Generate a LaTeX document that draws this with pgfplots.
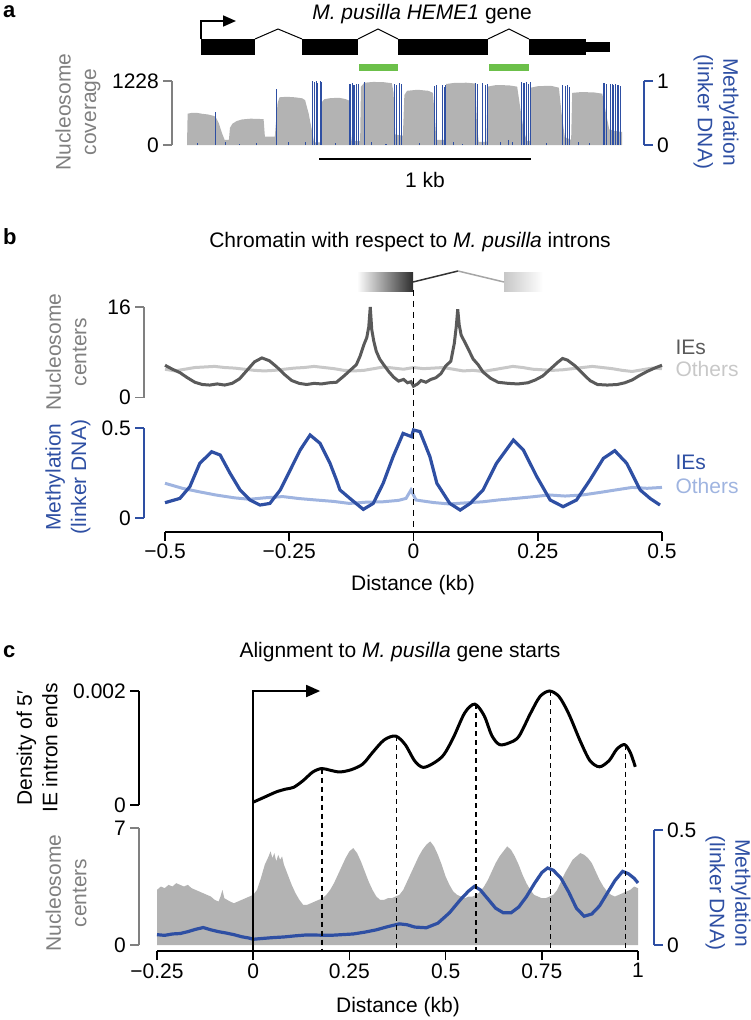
\documentclass[border=0pt]{standalone}
\usepackage{fontspec}
\setmainfont{Liberation Sans}
\usepackage{pgfplots}
\pgfplotsset{compat=1.18}
\usetikzlibrary{arrows.meta}

\definecolor{ieblue}{HTML}{2E4FA3}
\definecolor{otblue}{HTML}{9FB4E0}
\definecolor{iegray}{HTML}{5A5A5A}
\definecolor{otgray}{HTML}{C8C8C8}
\definecolor{areagray}{HTML}{B3B3B3}
\definecolor{labgray}{HTML}{808080}
\definecolor{exgreen}{HTML}{6CC04A}

\newcommand\tfont{\fontsize{21}{24}\selectfont}
\newcommand\lfont{\fontsize{21}{25.5}\selectfont}

\pgfplotsset{
  panel/.style={scale only axis, enlargelimits=false, clip=false,
    anchor=south west, scaled ticks=false,
    /pgf/number format/assume math mode=true,
    tick label style={font=\tfont, text=black},
    yticklabel style={inner xsep=4pt},
    tick align=outside, major tick length=9pt},
  nox/.style={axis x line=none, xtick=\empty},
  ybrack/.style 2 args={axis y line*=#1,
    y axis line style={-, draw=#2, line width=1.4pt},
    every y tick/.style={draw=#2, line width=1.4pt}},
  xbottom/.style={axis x line*=bottom,
    x axis line style={-, draw=black, line width=1.6pt},
    every x tick/.style={draw=black, line width=1.6pt}},
}

\begin{document}
\begin{tikzpicture}
\path[use as bounding box] (0pt,0pt) rectangle (751pt,-1020pt);

% ---------------- panel a ----------------
\node[anchor=north west, inner sep=0, font=\bfseries\fontsize{22}{22}\selectfont] at (3pt,-5pt) {a};
\node[font=\tfont, inner sep=0] at (422pt,-14pt) {\textit{M. pusilla HEME1} gene};
\fill (201pt,-39pt) rectangle (255pt,-55pt);
\fill (302pt,-39pt) rectangle (358pt,-55pt);
\fill (398pt,-39pt) rectangle (488pt,-55pt);
\fill (529pt,-39pt) rectangle (586pt,-55pt);
\fill (586pt,-42pt) rectangle (610pt,-52pt);
\draw[line width=1pt] (255pt,-39pt) -- (278pt,-29pt) -- (302pt,-39pt);
\draw[line width=1pt] (358pt,-39pt) -- (378pt,-29pt) -- (398pt,-39pt);
\draw[line width=1pt] (488pt,-39pt) -- (509pt,-29pt) -- (529pt,-39pt);
\draw[line width=1.6pt, -{Triangle[length=13pt,width=11pt]}] (201pt,-39pt) -- (201pt,-21pt) -- (236pt,-21pt);
\fill[exgreen] (359pt,-64pt) rectangle (398pt,-71pt);
\fill[exgreen] (489pt,-64pt) rectangle (529pt,-71pt);

\begin{axis}[panel, nox, ybrack={left}{labgray}, axis y line shift=15pt,
  at={(187pt,-145pt)}, width=436pt, height=64pt,
  xmin=0, xmax=2060, ymin=0, ymax=1228, ytick={0,1228}, yticklabels={0,1228}]
\addplot[fill=areagray, draw=none] coordinates {
(0,0) (3,600) (20,615) (45,618) (70,600) (100,585) (125,560) (135,540) (150,420)
(165,230) (178,97) (198,97) (203,330) (215,410) (235,460) (260,490) (300,505)
(340,500) (362,495) (368,161) (415,161) (420,420) (428,800) (437,915) (470,925)
(510,915) (545,895) (558,860) (575,600) (594,200) (600,50) (634,50) (638,830)
(650,880) (680,900) (720,905) (750,880) (767,850) (772,300) (778,80) (818,80)
(822,1120) (838,1195) (880,1210) (930,1205) (968,1185) (976,1000) (984,200)
(1020,180) (1027,960) (1040,1040) (1090,1060) (1140,1040) (1162,1000) (1170,600)
(1178,100) (1220,100) (1224,1170) (1260,1190) (1320,1195) (1362,1180) (1370,400)
(1378,60) (1415,60) (1420,1120) (1460,1150) (1520,1145) (1560,1120) (1575,700)
(1590,300) (1605,80) (1620,80) (1624,1100) (1660,1130) (1720,1135) (1757,1100)
(1770,600) (1785,150) (1815,100) (1820,1000) (1860,1015) (1920,1010) (1962,985)
(1980,600) (1995,300) (2020,270) (2056,250) (2056,0)};
\end{axis}

\begin{axis}[panel, nox, ybrack={right}{ieblue}, axis y line shift=21pt,
  at={(187pt,-145pt)}, width=436pt, height=64pt,
  xmin=0, xmax=2060, ymin=0, ymax=1, ytick={0,1}, yticklabels={0,1}]
\addplot[ycomb, draw=ieblue, line width=1.1pt, mark=none] coordinates {
(135,0.52) (424,0.88) (594,1.0) (602,0.98) (610,1.0) (618,0.97) (629,1.0) (635,0.99)
(770,0.95) (780,0.97) (789,0.93) (799,0.96) (811,0.95) (838,0.99)
(979,0.96) (990,0.94) (1003,0.97) (1014,0.95)
(1168,0.92) (1179,0.94) (1207,0.93) (1215,0.91) (1223,0.94)
(1364,0.97) (1372,0.95) (1396,0.97) (1409,0.94) (1420,0.96)
(1581,0.99) (1592,0.97) (1603,0.99) (1613,0.96) (1624,0.98)
(1773,0.93) (1789,0.92) (1797,0.94) (1808,0.91)
(1970,0.97) (1981,0.96) (2001,0.95) (2009,0.96) (2017,0.94) (2025,0.95) (2033,0.93) (2040,0.94) (2048,0.92)
(50,0.03) (180,0.04) (250,0.02) (330,0.03) (480,0.04) (560,0.05) (700,0.03) (870,0.04)
(940,0.02) (1100,0.03) (1260,0.04) (1300,0.02) (1480,0.05) (1520,0.08) (1540,0.04)
(1700,0.03) (1850,0.04) (1900,0.03)};
\end{axis}

\draw[line width=1.8pt] (319pt,-159pt) -- (531pt,-159pt);
\node[font=\tfont] at (425pt,-180pt) {1 kb};
\node[rotate=90, align=center, font=\lfont, text=labgray] at (78pt,-112pt) {Nucleosome\\coverage};
\node[rotate=-90, align=center, font=\lfont, text=ieblue] at (716pt,-112pt) {Methylation\\(linker DNA)};

% ---------------- panel b ----------------
\node[anchor=north west, inner sep=0, font=\bfseries\fontsize{22}{22}\selectfont] at (3pt,-228pt) {b};
\node[font=\tfont] at (410pt,-242pt) {Chromatin with respect to \textit{M. pusilla} introns};
\shade[left color=white, right color=black!82] (357pt,-272pt) rectangle (413pt,-291pt);
\shade[left color=black!22, right color=white] (504pt,-272pt) rectangle (543pt,-291pt);
\draw[line width=1.5pt, black!80] (413pt,-282pt) -- (458pt,-271pt);
\draw[line width=1.5pt, black!35] (458pt,-271pt) -- (504pt,-282pt);

\begin{axis}[panel, nox, ybrack={left}{labgray}, axis y line shift=21pt,
  at={(165pt,-397.5pt)}, width=497pt, height=90.5pt,
  xmin=-0.5, xmax=0.5, ymin=0, ymax=16, ytick={0,16}, yticklabels={0,16}]
\addplot[otgray, line width=3pt] coordinates {
(-0.5,5.0) (-0.48,4.7) (-0.46,5.0) (-0.44,5.3) (-0.42,5.4) (-0.4,5.5) (-0.38,5.3)
(-0.36,5.2) (-0.34,5.0) (-0.32,4.8) (-0.3,4.7) (-0.28,4.8) (-0.26,5.0) (-0.24,5.2)
(-0.22,5.3) (-0.2,5.5) (-0.18,5.3) (-0.16,5.1) (-0.14,4.8) (-0.12,4.7) (-0.1,4.8)
(-0.08,5.1) (-0.06,5.4) (-0.04,5.2) (-0.02,5.0) (0,5.3) (0.02,5.1) (0.04,5.2)
(0.06,5.3) (0.08,5.0) (0.1,4.7) (0.12,4.8) (0.14,4.6) (0.16,4.9) (0.18,5.2) (0.2,5.5)
(0.22,5.3) (0.24,5.0) (0.26,4.9) (0.28,4.8) (0.3,4.9) (0.32,5.1) (0.34,5.3) (0.36,5.5)
(0.38,5.3) (0.4,5.1) (0.42,4.8) (0.44,4.6) (0.46,4.9) (0.48,5.2) (0.5,5.1)};
\addplot[iegray, line width=3pt] coordinates {
(-0.5,5.7) (-0.485,5.0) (-0.47,4.4) (-0.455,3.5) (-0.44,2.7) (-0.425,2.3) (-0.41,2.2)
(-0.395,2.4) (-0.38,2.2) (-0.365,2.5) (-0.35,3.3) (-0.335,4.8) (-0.32,6.3) (-0.305,7.0)
(-0.29,6.5) (-0.275,5.4) (-0.26,4.1) (-0.245,3.0) (-0.23,2.5) (-0.215,2.3) (-0.2,2.5)
(-0.185,2.4) (-0.17,2.6) (-0.155,2.7) (-0.14,3.8) (-0.125,5.0) (-0.115,5.8) (-0.108,7.2)
(-0.1,9.3) (-0.094,10.6) (-0.09,12.5) (-0.087,16.0) (-0.084,12.0) (-0.08,10.0)
(-0.075,8.2) (-0.068,6.8) (-0.06,5.8) (-0.05,4.6) (-0.04,3.6) (-0.03,2.9) (-0.02,3.2)
(-0.012,2.6) (-0.005,2.8) (0.0,2.0) (0.008,2.4) (0.015,3.0) (0.025,2.7) (0.035,3.2)
(0.045,3.5) (0.055,4.2) (0.065,5.6) (0.075,6.4) (0.082,9.5) (0.086,12.5) (0.089,15.6)
(0.092,12.8) (0.096,11.0) (0.102,10.0) (0.11,8.6) (0.12,6.8) (0.13,5.8) (0.14,4.5)
(0.155,3.4) (0.17,2.7) (0.19,2.5) (0.21,2.4) (0.23,2.6) (0.245,3.1) (0.26,3.8)
(0.275,5.0) (0.29,6.2) (0.3,6.9) (0.31,6.6) (0.325,5.6) (0.34,4.3) (0.355,3.0)
(0.37,2.3) (0.39,2.2) (0.41,2.3) (0.425,2.6) (0.44,3.1) (0.455,3.9) (0.47,4.6)
(0.485,5.2) (0.5,5.7)};
\end{axis}

\begin{axis}[panel, ybrack={left}{ieblue}, xbottom, axis y line shift=21pt,
  axis x line shift=13.7pt,
  at={(165pt,-518pt)}, width=497pt, height=90pt,
  xmin=-0.5, xmax=0.5, ymin=0, ymax=0.5, ytick={0,0.5}, yticklabels={0,0.5},
  xtick={-0.5,-0.25,0,0.25,0.5}, xticklabels={−0.5,−0.25,0,0.25,0.5}]
\addplot[otblue, line width=3pt] coordinates {
(-0.5,0.193) (-0.465,0.165) (-0.43,0.145) (-0.398,0.128) (-0.36,0.112) (-0.33,0.104)
(-0.3,0.112) (-0.263,0.119) (-0.23,0.108) (-0.196,0.1) (-0.16,0.092) (-0.129,0.081)
(-0.095,0.088) (-0.062,0.09) (-0.03,0.098) (-0.015,0.109) (-0.005,0.156) (0.005,0.1)
(0.04,0.086) (0.072,0.078) (0.105,0.084) (0.139,0.09) (0.17,0.1) (0.206,0.109)
(0.24,0.118) (0.273,0.128) (0.305,0.122) (0.34,0.128) (0.375,0.142) (0.407,0.156)
(0.44,0.17) (0.47,0.165) (0.5,0.17)};
\addplot[ieblue, line width=3.2pt] coordinates {
(-0.5,0.085) (-0.47,0.109) (-0.45,0.174) (-0.43,0.304) (-0.406,0.368) (-0.389,0.35)
(-0.369,0.248) (-0.349,0.156) (-0.329,0.1) (-0.309,0.072) (-0.289,0.081) (-0.268,0.156)
(-0.248,0.267) (-0.228,0.378) (-0.208,0.461) (-0.188,0.415) (-0.168,0.304)
(-0.155,0.211) (-0.148,0.156) (-0.128,0.109) (-0.101,0.048) (-0.081,0.081)
(-0.061,0.193) (-0.041,0.341) (-0.021,0.47) (-0.004,0.452) (0.0,0.489) (0.013,0.48)
(0.033,0.341) (0.047,0.193) (0.073,0.081) (0.094,0.044) (0.114,0.081) (0.14,0.156)
(0.167,0.304) (0.201,0.433) (0.221,0.378) (0.248,0.23) (0.275,0.1) (0.301,0.063)
(0.328,0.1) (0.355,0.211) (0.382,0.331) (0.405,0.374) (0.429,0.304) (0.456,0.156)
(0.476,0.109) (0.496,0.072)};
\draw[dash pattern=on 6pt off 5pt, line width=1.5pt] (axis cs:0,1.267) -- (axis cs:0,-0.076);
\end{axis}

\node[font=\tfont] at (413pt,-585pt) {Distance (kb)};
\node[anchor=west, font=\tfont, text=iegray] at (672pt,-347pt) {IEs};
\node[anchor=west, font=\tfont, text=otgray] at (672pt,-369pt) {Others};
\node[anchor=west, font=\tfont, text=ieblue] at (672pt,-462pt) {IEs};
\node[anchor=west, font=\tfont, text=otblue] at (672pt,-486pt) {Others};
\node[rotate=90, align=center, font=\lfont, text=labgray] at (66pt,-352pt) {Nucleosome\\centers};
\node[rotate=90, align=center, font=\lfont, text=ieblue] at (68pt,-477pt) {Methylation\\(linker DNA)};

% ---------------- panel c ----------------
\node[anchor=north west, inner sep=0, font=\bfseries\fontsize{22}{22}\selectfont] at (3pt,-645pt) {c};
\node[font=\tfont] at (400pt,-652pt) {Alignment to \textit{M. pusilla} gene starts};

\begin{axis}[panel, nox, ybrack={left}{labgray}, axis y line shift=18pt,
  at={(157pt,-945pt)}, width=481pt, height=117pt,
  xmin=-0.25, xmax=1, ymin=0, ymax=7, ytick={0,7}, yticklabels={0,7}]
\addplot[fill=areagray, draw=none] coordinates {
(-0.25,3.3) (-0.24,3.5) (-0.23,3.4) (-0.22,3.6) (-0.21,3.5) (-0.2,3.7) (-0.19,3.6)
(-0.18,3.5) (-0.17,3.6) (-0.16,3.4) (-0.15,3.3) (-0.14,3.2) (-0.13,3.1) (-0.12,3.0)
(-0.11,2.9) (-0.1,2.7) (-0.09,2.6) (-0.085,2.9) (-0.08,3.3) (-0.075,2.8) (-0.06,2.6)
(-0.05,2.5) (-0.04,2.6) (-0.03,2.7) (-0.02,2.8) (-0.01,2.9) (0,3.0) (0.01,3.3)
(0.02,4.0) (0.03,4.8) (0.04,5.3) (0.045,5.6) (0.05,5.2) (0.055,5.5) (0.06,5.0)
(0.065,5.4) (0.07,5.1) (0.075,5.3) (0.08,4.8) (0.09,4.2) (0.1,3.6) (0.11,3.1)
(0.12,2.7) (0.13,2.4) (0.14,2.4) (0.15,2.5) (0.16,2.6) (0.17,2.7) (0.18,2.8) (0.19,3.0)
(0.2,3.3) (0.21,3.7) (0.22,4.2) (0.23,4.7) (0.24,5.2) (0.25,5.6) (0.26,5.8) (0.27,5.5)
(0.28,5.0) (0.29,4.4) (0.3,3.8) (0.31,3.3) (0.32,2.9) (0.33,2.7) (0.34,2.7) (0.35,2.8)
(0.36,2.8) (0.37,2.9) (0.38,3.0) (0.39,3.3) (0.4,3.8) (0.41,4.3) (0.42,4.8) (0.43,5.3)
(0.44,5.7) (0.45,6.0) (0.46,6.2) (0.47,5.9) (0.48,5.4) (0.49,4.8) (0.5,4.1) (0.51,3.6)
(0.52,3.2) (0.53,3.0) (0.54,2.9) (0.55,2.8) (0.56,2.9) (0.57,2.9) (0.58,3.0) (0.59,3.2)
(0.6,3.5) (0.61,3.9) (0.62,4.4) (0.63,4.9) (0.64,5.3) (0.65,5.6) (0.66,5.9) (0.67,5.7)
(0.68,5.3) (0.69,4.8) (0.7,4.2) (0.71,3.7) (0.72,3.3) (0.73,3.0) (0.74,2.9) (0.75,2.8)
(0.76,2.8) (0.77,2.9) (0.78,3.0) (0.79,3.3) (0.8,3.8) (0.81,4.3) (0.82,4.7) (0.83,5.1)
(0.84,5.3) (0.85,5.5) (0.86,5.4) (0.87,5.2) (0.88,4.9) (0.89,4.4) (0.9,3.9) (0.91,3.5)
(0.92,3.2) (0.93,3.0) (0.94,2.9) (0.95,3.0) (0.96,3.1) (0.97,3.2) (0.98,3.3) (0.99,3.5)
(1.0,3.4)} \closedcycle;
\end{axis}

\begin{axis}[panel, ybrack={right}{ieblue}, xbottom, axis y line shift=16pt,
  axis x line shift=6pt,
  at={(157pt,-945pt)}, width=481pt, height=115pt,
  xmin=-0.25, xmax=1, ymin=0, ymax=0.5, ytick={0,0.5}, yticklabels={0,0.5},
  xtick={-0.25,0,0.25,0.5,0.75,1}, xticklabels={−0.25,0,0.25,0.5,0.75,1}]
\addplot[ieblue, line width=3.2pt] coordinates {
(-0.25,0.045) (-0.23,0.042) (-0.21,0.048) (-0.19,0.050) (-0.17,0.058) (-0.15,0.068)
(-0.13,0.076) (-0.11,0.066) (-0.09,0.058) (-0.07,0.052) (-0.05,0.045) (-0.03,0.036)
(-0.01,0.030) (0.0,0.025) (0.02,0.028) (0.05,0.032) (0.08,0.035) (0.11,0.040)
(0.14,0.044) (0.17,0.043) (0.2,0.042) (0.23,0.045) (0.26,0.048) (0.29,0.056)
(0.32,0.066) (0.35,0.080) (0.38,0.092) (0.40,0.088) (0.42,0.078) (0.45,0.075)
(0.48,0.095) (0.51,0.140) (0.54,0.200) (0.56,0.235) (0.575,0.255) (0.59,0.240)
(0.61,0.200) (0.63,0.160) (0.65,0.140) (0.67,0.140) (0.69,0.165) (0.71,0.210)
(0.73,0.265) (0.75,0.315) (0.765,0.335) (0.78,0.325) (0.80,0.290) (0.82,0.230)
(0.84,0.160) (0.86,0.125) (0.88,0.135) (0.90,0.170) (0.92,0.225) (0.94,0.280)
(0.96,0.320) (0.975,0.310) (0.99,0.290) (1.0,0.270)};
\end{axis}

\begin{axis}[panel, nox, ybrack={left}{black}, axis y line shift=18pt,
  at={(157pt,-805pt)}, width=481pt, height=114pt,
  xmin=-0.25, xmax=1, ymin=0, ymax=0.002, ytick={0,0.002}, yticklabels={0,0.002}]
\foreach \d/\v in {0.179/0.00064, 0.373/0.00121, 0.579/0.00177, 0.773/0.00200, 0.967/0.00106}{
  \edef\tmp{\noexpand\draw[dash pattern=on 5pt off 4pt, line width=1.3pt]
    (axis cs:\d,\v) -- (axis cs:\d,-0.00256);}\tmp
}
\draw[line width=1.8pt, -{Triangle[length=14pt,width=12pt]}] (axis cs:0,-0.00256) -- (axis cs:0,0.002) -- (axis cs:0.174,0.002);
\addplot[black, line width=3pt, smooth, tension=0.5] coordinates {
(0.000,0.00005) (0.03,0.00014) (0.06,0.00023) (0.085,0.00028) (0.105,0.00031)
(0.13,0.00043) (0.155,0.00058) (0.178,0.00064) (0.2,0.00061) (0.225,0.00058)
(0.255,0.00062) (0.285,0.00072) (0.31,0.00092) (0.34,0.00114) (0.37,0.00121)
(0.395,0.00106) (0.42,0.00077) (0.442,0.00066) (0.47,0.00074) (0.495,0.00088)
(0.52,0.00118) (0.55,0.00162) (0.576,0.00177) (0.6,0.00157) (0.62,0.00122)
(0.64,0.00106) (0.665,0.00109) (0.69,0.00120) (0.72,0.00160) (0.745,0.00190)
(0.77,0.00200) (0.795,0.00190) (0.82,0.00160) (0.85,0.00112) (0.875,0.00078)
(0.9,0.00067) (0.925,0.00078) (0.945,0.00098) (0.965,0.00106) (0.98,0.00092)
(0.993,0.00067)};
\end{axis}

\node[font=\tfont] at (398pt,-1007pt) {Distance (kb)};
\node[rotate=90, align=center, font=\lfont] at (37pt,-748pt) {Density of 5′\\IE intron ends};
\node[rotate=90, align=center, font=\lfont, text=labgray] at (66pt,-893pt) {Nucleosome\\centers};
\node[rotate=-90, align=center, font=\lfont, text=ieblue] at (728pt,-893pt) {Methylation\\(linker DNA)};
\end{tikzpicture}
\end{document}
